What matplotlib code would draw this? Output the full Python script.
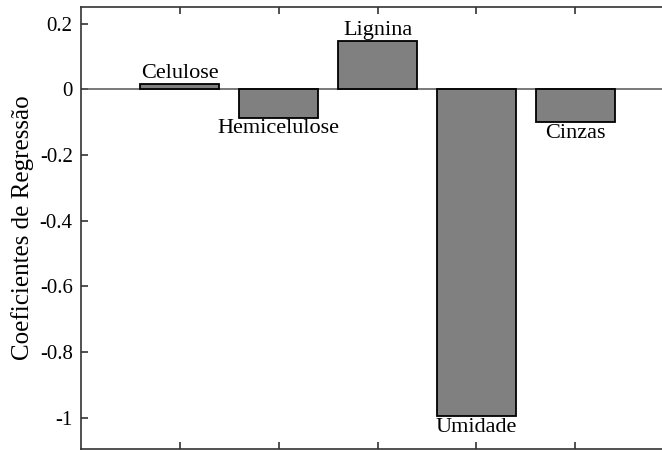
import matplotlib
matplotlib.use("Agg")
import matplotlib.pyplot as plt
import numpy as np

# regression coefficients per biomass property
components = ["Celulose", "Hemicelulose", "Lignina", "Umidade", "Cinzas"]
coefficients = [0.016, -0.086, 0.148, -0.995, -0.100]

plt.rcParams["font.family"] = ["Liberation Serif", "DejaVu Serif"]
plt.rcParams["font.size"] = 15


def main():
    fig = plt.figure(figsize=(6.62, 4.5), dpi=100)
    # axes run past the right edge of the figure
    ax = fig.add_axes([0.1224, 0.003, 0.896, 0.981])

    x = np.arange(1, len(components) + 1)
    ax.bar(x, coefficients, width=0.8, color="#808080", edgecolor="black",
           linewidth=1.3, zorder=3)
    ax.axhline(0, color="#555555", lw=1.1, zorder=2)

    for xi, val, name in zip(x, coefficients, components):
        if val >= 0:
            ax.annotate(name, (xi, val), xytext=(0, 0.5), textcoords="offset points",
                        ha="center", va="bottom", fontsize=16)
        else:
            ax.annotate(name, (xi, val), xytext=(0, -1), textcoords="offset points",
                        ha="center", va="top", fontsize=16)

    ax.set_xlim(0, 6)
    ax.set_ylim(-1.094, 0.25)
    ax.set_xticks(x)
    ax.set_xticklabels([])
    ax.set_yticks([-1, -0.8, -0.6, -0.4, -0.2, 0, 0.2])
    ax.set_yticklabels(["-1", "-0.8", "-0.6", "-0.4", "-0.2", "0", "0.2"])
    ax.tick_params(direction="in", length=5, width=1.2, top=True, right=True,
                   color="#333333", pad=6)
    for s in ax.spines.values():
        s.set_color("#333333")
        s.set_linewidth(1.2)

    ax.set_ylabel("Coeficientes de Regressão", fontsize=18, labelpad=4)

    fig.savefig("out.png", dpi=100)


if __name__ == "__main__":
    main()
